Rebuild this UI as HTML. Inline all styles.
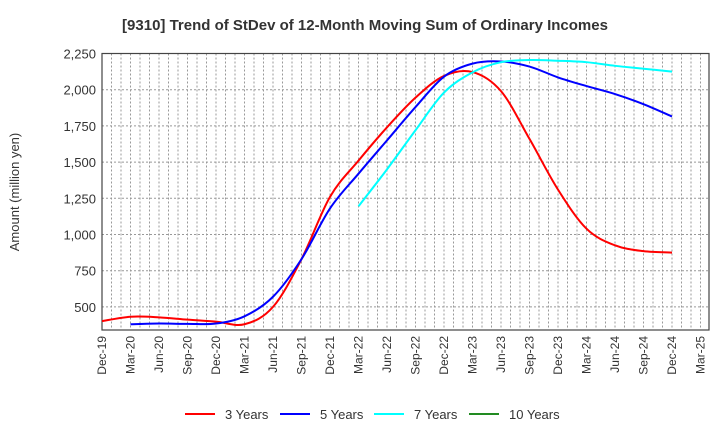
<!DOCTYPE html>
<html><head><meta charset="utf-8"><style>
body{margin:0;background:#fff;font-family:"Liberation Sans",Arial,sans-serif}
svg text{font-family:"Liberation Sans",Arial,sans-serif}
</style></head><body>
<svg id="chart" width="720" height="440" xmlns="http://www.w3.org/2000/svg">
<text x="365" y="30" text-anchor="middle" font-size="15" font-weight="bold" fill="#333">[9310]  Trend of StDev of 12-Month Moving Sum of Ordinary Incomes</text>
<text transform="translate(19,192) rotate(-90)" text-anchor="middle" font-size="13" fill="#333">Amount (million yen)</text>
<g id="grid"></g><g id="axes"></g><g id="series"></g>
<g id="legend"></g>
</svg>
<script>
const categories=["Dec-19","Mar-20","Jun-20","Sep-20","Dec-20","Mar-21","Jun-21","Sep-21","Dec-21","Mar-22","Jun-22","Sep-22","Dec-22","Mar-23","Jun-23","Sep-23","Dec-23","Mar-24","Jun-24","Sep-24","Dec-24","Mar-25"];
const yTicks=[500,750,1000,1250,1500,1750,2000,2250];
const s3=[402,432,428,412,398,380,500,830,1260,1510,1740,1945,2095,2122,1990,1660,1310,1040,925,885,875];
const s5=[null,380,385,383,385,435,570,830,1180,1420,1650,1880,2090,2180,2195,2160,2085,2025,1970,1900,1815];
const s7=[null,null,null,null,null,null,null,null,null,1195,1450,1720,1980,2120,2190,2205,2200,2190,2165,2145,2125];
const s10=[];
const seriesNames=["3 Years","5 Years","7 Years","10 Years"];
const colors=["#ff0000","#0000ff","#00ffff","#228b22"];
const L=102,R=709,T=53.5,B=330;
const qw=28.5;
const x=i=>L+i*qw;
const y=v=>T+(2250-v)/250*36.2;
const NS="http://www.w3.org/2000/svg";
function mk(tag,parent,attrs){const e=document.createElementNS(NS,tag);for(const k in attrs)e.setAttribute(k,attrs[k]);parent.appendChild(e);return e;}
const grid=document.getElementById('grid'),axes=document.getElementById('axes'),ser=document.getElementById('series'),leg=document.getElementById('legend');
for(let m=1;m<64;m++){const xx=L+m*qw/3;if(xx>=R)break;const g=mk('line',grid,{x1:xx,x2:xx,y1:T,y2:B,stroke:'#999','stroke-dasharray':'2,2','stroke-width':1});

}
yTicks.forEach(v=>{const g=mk('line',grid,{x1:L,x2:R,y1:y(v),y2:y(v),stroke:'#999','stroke-dasharray':'2,2','stroke-width':1});


const t=mk('text',axes,{x:L-6,y:y(v)+5,'text-anchor':'end','font-size':13,fill:'#333'});t.textContent=v.toLocaleString('en-US');

});
const fr=mk('rect',axes,{x:L,y:T,width:R-L,height:B-T,fill:'none',stroke:'#444','stroke-width':1.2});


categories.forEach((c,i)=>{const t=mk('text',axes,{transform:`translate(${x(i)+4},${B+6}) rotate(-90)`,'text-anchor':'end','font-size':12,fill:'#333'});t.textContent=c;

});
function smoothPath(pts){let d=`M${pts[0][0]},${pts[0][1]}`;for(let i=0;i<pts.length-1;i++){const p0=pts[i-1]||pts[i],p1=pts[i],p2=pts[i+1],p3=pts[i+2]||p2;
d+=` C${p1[0]+(p2[0]-p0[0])/6},${p1[1]+(p2[1]-p0[1])/6} ${p2[0]-(p3[0]-p1[0])/6},${p2[1]-(p3[1]-p1[1])/6} ${p2[0]},${p2[1]}`;}return d;}
[s3,s5,s7,s10].forEach((s,k)=>{const pts=[];s.forEach((v,i)=>{if(v!=null)pts.push([x(i),y(v)]);});if(pts.length<2)return;
const p=mk('path',ser,{d:smoothPath(pts),fill:'none',stroke:colors[k],'stroke-width':2});

});
const lx=[185,280,374,469];
seriesNames.forEach((n,k)=>{const l=mk('line',leg,{x1:lx[k],x2:lx[k]+30,y1:414,y2:414,stroke:colors[k],'stroke-width':2});


const t=mk('text',leg,{x:lx[k]+40,y:419,'font-size':13,fill:'#333'});t.textContent=n;

});
</script>
</body></html>
